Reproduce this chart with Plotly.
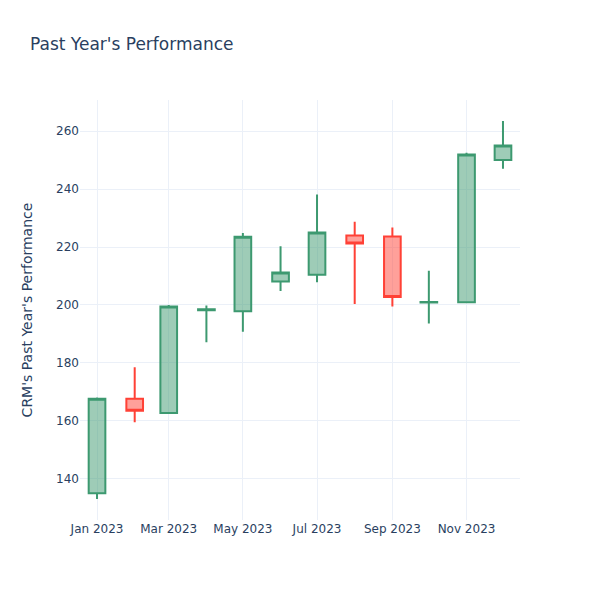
import plotly.graph_objects as go

dates = ["2023-01-01", "2023-02-01", "2023-03-01", "2023-04-01", "2023-05-01", "2023-06-01",
         "2023-07-01", "2023-08-01", "2023-09-01", "2023-10-01", "2023-11-01", "2023-12-01"]
open_ = [135.0, 167.6, 162.7, 198.2, 197.8, 208.1, 210.4, 224.0, 223.6, 200.8, 200.9, 250.0]
high = [168.0, 178.5, 200.0, 199.8, 224.8, 220.3, 238.1, 228.7, 226.7, 211.8, 252.5, 263.5]
low = [133.0, 159.5, 162.5, 187.1, 190.7, 204.8, 207.8, 200.3, 199.5, 193.6, 200.7, 247.0]
close = [167.6, 163.5, 199.5, 198.5, 223.5, 211.2, 225.0, 221.2, 202.7, 201.0, 251.9, 255.0]

fig = go.Figure(go.Candlestick(x=dates, open=open_, high=high, low=low, close=close))
fig.update_layout(
    title=dict(text="Past Year's Performance", x=22 / 584, y=1 - 36 / 584, yanchor="middle"),
    xaxis_rangeslider_visible=False,
    width=584, height=584,
    margin=dict(l=72, r=72, t=92, b=72),
    template="plotly_white",
    font=dict(family="DejaVu Sans"),
)
fig.update_yaxes(title=dict(text="CRM's Past Year's Performance", standoff=20), automargin=True)
fig.write_html("out.html")
